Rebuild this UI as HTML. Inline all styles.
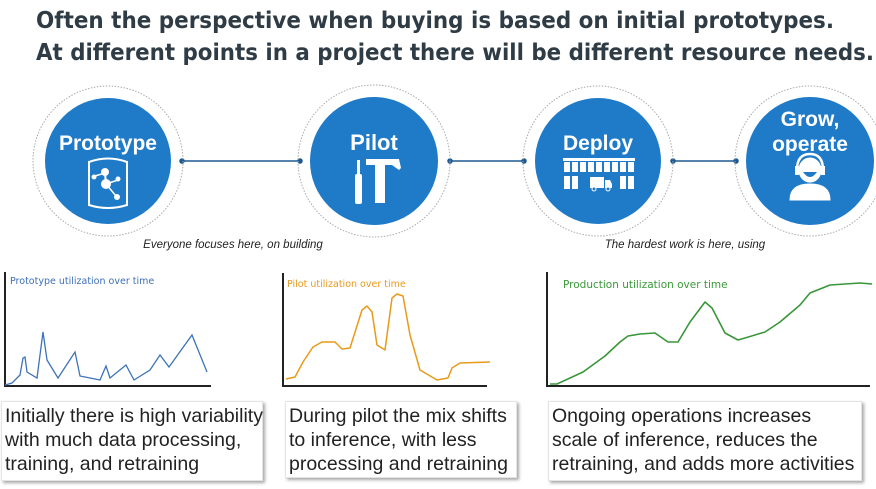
<!DOCTYPE html>
<html><head><meta charset="utf-8"><style>
html,body{margin:0;padding:0;background:#fff;width:876px;height:489px;overflow:hidden}
.box{position:absolute;background:#fff;box-shadow:2px 2px 3px rgba(0,0,0,0.35);border:1px solid #e4e4e4;font-family:"Liberation Sans",sans-serif;font-size:19.5px;line-height:24px;color:#222;padding:2px 3px;box-sizing:border-box;white-space:nowrap}
</style></head><body>
<svg width="876" height="489" style="position:absolute;left:0;top:0" xmlns="http://www.w3.org/2000/svg">
<g font-family="'DejaVu Sans','Liberation Sans',sans-serif" font-weight="bold" fill="#2f3c46" font-size="23">
<text x="36" y="28" textLength="798" lengthAdjust="spacingAndGlyphs">Often the perspective when buying is based on initial prototypes.</text>
<text x="36" y="60" textLength="838" lengthAdjust="spacingAndGlyphs">At different points in a project there will be different resource needs.</text>
</g>
<!-- connectors -->
<g stroke="#1d5a94" stroke-width="1.5" fill="#1d5a94">
<line x1="182" y1="161" x2="300" y2="161"/><circle cx="182" cy="161" r="2"/><circle cx="300" cy="161" r="2"/>
<line x1="450" y1="161" x2="524" y2="161"/><circle cx="450" cy="161" r="2"/><circle cx="524" cy="161" r="2"/>
<line x1="673" y1="161" x2="736" y2="161"/><circle cx="673" cy="161" r="2"/><circle cx="736" cy="161" r="2"/>
</g>
<g fill="none" stroke="#aaa" stroke-width="1" stroke-dasharray="1.5 1.5">
<circle cx="108" cy="161" r="75"/><circle cx="374" cy="161" r="76"/><circle cx="598" cy="161" r="75"/><circle cx="810" cy="161" r="75"/>
</g>
<g fill="#1f7ac8">
<circle cx="108" cy="161" r="63"/><circle cx="374" cy="161" r="64"/><circle cx="598" cy="161" r="63"/><circle cx="810" cy="161" r="64"/>
</g>
<g font-family="'Liberation Sans',sans-serif" font-weight="bold" fill="#fff" text-anchor="middle">
<text x="108" y="150" font-size="21">Prototype</text>
<text x="374" y="150" font-size="22">Pilot</text>
<text x="598" y="150" font-size="21">Deploy</text>
<text x="810" y="126" font-size="21">Grow,</text>
<text x="810" y="151" font-size="21">operate</text>
</g>
<!-- prototype icon -->
<g stroke="#fff" fill="#fff">
<path d="M89,162 Q108,155 127,162 L127,205 Q108,211 89,205 Z" fill="none" stroke-width="2"/>
<line x1="106" y1="184" x2="105" y2="173" stroke-width="2"/><line x1="106" y1="184" x2="118" y2="180" stroke-width="1.5"/><line x1="106" y1="184" x2="116" y2="196" stroke-width="1.5"/><line x1="105" y1="173" x2="95" y2="176" stroke-width="1.5"/>
<circle cx="106" cy="184" r="4.5"/><circle cx="105" cy="172" r="3.5"/><circle cx="118" cy="179" r="2"/><circle cx="117" cy="197" r="2.5"/><circle cx="94" cy="177" r="2"/>
</g>
<!-- pilot icon -->
<g fill="#fff">
<rect x="357" y="160" width="3" height="15"/><rect x="355" y="174" width="7" height="30" rx="2"/>
<path d="M366,159 L399,159 L401,168 L399,170 L392,165 L385,165 L385,203 L375,203 L375,165 L366,165 Z"/>
</g>
<!-- deploy icon -->
<g fill="#fff">
<rect x="563" y="158" width="72" height="3"/>
<g>
<rect x="564" y="162" width="6" height="10"/><rect x="572" y="162" width="6" height="10"/><rect x="580" y="162" width="6" height="10"/><rect x="588" y="162" width="6" height="10"/><rect x="596" y="162" width="6" height="10"/><rect x="604" y="162" width="6" height="10"/><rect x="612" y="162" width="6" height="10"/><rect x="620" y="162" width="6" height="10"/><rect x="628" y="162" width="6" height="10"/>
<rect x="564" y="176" width="6" height="13"/><rect x="572" y="176" width="6" height="13"/><rect x="620" y="176" width="6" height="13"/><rect x="628" y="176" width="6" height="13"/>
</g>
<rect x="590" y="177" width="14" height="11"/><path d="M605,180 L610,180 L612,184 L612,188 L605,188 Z"/>
<circle cx="594" cy="189" r="2" fill="#1f7ac8" stroke="#fff"/><circle cx="608" cy="189" r="2" fill="#1f7ac8" stroke="#fff"/>
</g>
<!-- grow icon -->
<g fill="#fff" stroke="#fff">
<ellipse cx="810" cy="170" rx="11" ry="12"/>
<path d="M797,170 Q797,154 810,154 Q823,154 823,170" fill="none" stroke-width="2.5"/>
<rect x="795" y="166" width="4" height="9" stroke="none"/><rect x="821" y="166" width="4" height="9" stroke="none"/>
<path d="M790,200 Q790,184 810,184 Q830,184 830,200 Z"/>
<path d="M803,172 Q810,182 817,172 Z" fill="#1f7ac8" stroke="none"/>
</g>
<g font-family="'Liberation Sans',sans-serif" font-style="italic" font-size="11.5" fill="#222" text-anchor="middle">
<text x="233" y="248">Everyone focuses here, on building</text>
<text x="685" y="248">The hardest work is here, using</text>
</g>
<!-- charts -->
<g stroke="#222" stroke-width="2" fill="none">
<path d="M5,272 L5,386 L211,386"/>
<path d="M283,273 L283,386 L487,386"/>
<path d="M547,272 L547,386 L870,386"/>
</g>
<g font-family="'DejaVu Sans','Liberation Sans',sans-serif" font-size="9.5">
<text x="10" y="284" fill="#3d6fb8">Prototype utilization over time</text>
<text x="287" y="287" fill="#e69a1e">Pilot utilization over time</text>
<text x="563" y="288" fill="#3a9a3a" font-size="10.5">Production utilization over time</text>
</g>
<polyline fill="none" stroke="#3d74b8" stroke-width="1.3" points="5,385 12,383 20,375 23,358 25,357 27,372 37,378 43,332 47,360 58,378 75,352 80,376 100,380 106,366 110,378 126,365 134,380 150,370 160,355 169,367 192,335 207,372"/>
<polyline fill="none" stroke="#e89a1a" stroke-width="1.5" stroke-linejoin="round" points="286,379 295,377 303,362 313,347 322,342 335,342 342,349 350,348 362,310 367,306 372,312 377,345 385,350 392,298 397,294 403,296 410,335 420,370 437,380 448,378 452,368 460,363 490,362"/>
<polyline fill="none" stroke="#3a963a" stroke-width="1.6" stroke-linejoin="round" points="550,384 557,384 583,372 605,356 620,342 628,336 640,334 655,333 668,342 678,342 690,322 705,302 712,308 725,333 738,340 745,338 765,332 780,322 800,305 810,293 830,285 860,283 872,284"/>
</svg>
<div class="box" style="left:1px;top:401px;width:262px;height:80px">Initially there is high variability<br>with much data processing,<br>training, and retraining</div>
<div class="box" style="left:285px;top:401px;width:232px;height:77px">During pilot the mix shifts<br>to inference, with less<br>processing and retraining</div>
<div class="box" style="left:548px;top:401px;width:314px;height:80px">Ongoing operations increases<br>scale of inference, reduces the<br>retraining, and adds more activities</div>
</body></html>
